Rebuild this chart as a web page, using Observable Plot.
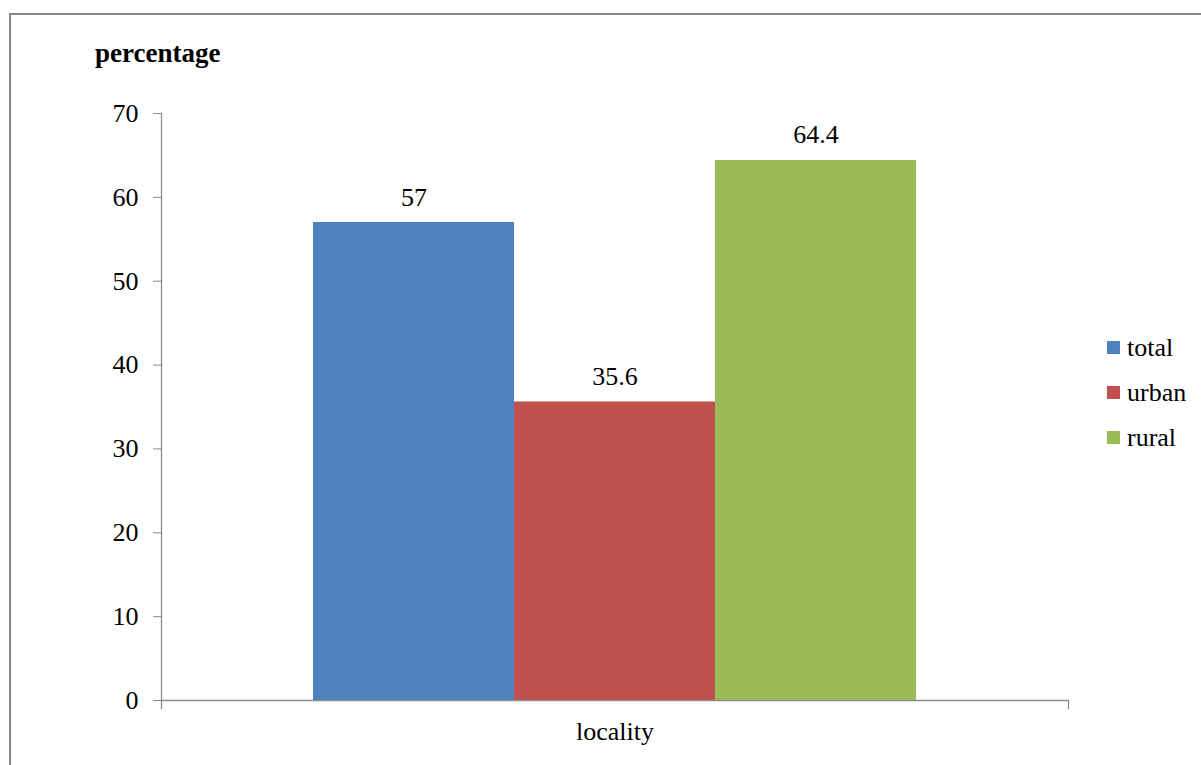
<!DOCTYPE html>
<html>
<head>
<meta charset="utf-8">
<script src="https://cdn.jsdelivr.net/npm/d3@7"></script>
<script src="https://cdn.jsdelivr.net/npm/@observablehq/plot@0.6"></script>
<style>
  html, body { margin: 0; padding: 0; background: #fff; overflow: hidden; }
  body { position: relative; width: 1201px; height: 765px; font-family: "Liberation Serif", "Times New Roman", serif; }
  #frame { position: absolute; left: 9px; top: 13px; width: 1400px; height: 1000px; border-left: 2px solid #878787; border-top: 2px solid #878787; }
  #chart { position: absolute; left: 0; top: 0; }
  #chart svg, #chart svg text { font-family: "Liberation Serif", "Times New Roman", serif !important; }
  #ytitle { position: absolute; left: 95px; top: 40px; font-weight: bold; font-size: 27px; line-height: 26px; color: #000; }
  #legend { position: absolute; left: 1107px; top: 325px; font-size: 26px; color: #000; }
  #legend .row { display: flex; align-items: center; height: 45px; line-height: 45px; }
  #legend .sw { width: 13px; height: 13px; margin-right: 7px; }
</style>
</head>
<body>
<div id="frame"></div>
<div id="chart"></div>
<div id="ytitle">percentage</div>
<div id="legend"></div>
<script>
// Share of respondents by locality
const categories = ["locality"];
const series = ["total", "urban", "rural"];
const values = [57, 35.6, 64.4];
const colors = ["#4F81BD", "#C0504D", "#9BBB59"];
const yTicks = [0, 10, 20, 30, 40, 50, 60, 70];

const rows = series.map((s, i) => ({group: categories[0], series: s, value: values[i]}));

const axisGray = "#8c8c8c";
const serif = "'Liberation Serif', 'Times New Roman', serif";
const W = 1201, H = 765;
const mTop = 113, mBottom = 65;

const chart = Plot.plot({
  width: W,
  height: H,
  marginLeft: 161,
  marginRight: 133,
  marginTop: mTop,
  marginBottom: mBottom,
  style: {fontFamily: serif, fontSize: "26px", color: "#000", background: "transparent"},
  fx: {domain: categories, padding: 0, label: null},
  x: {domain: series, paddingInner: 0, paddingOuter: 0.75, axis: null},
  y: {domain: [0, 70], label: null},
  color: {domain: series, range: colors},
  marks: [
    Plot.barY(rows, {fx: "group", x: "series", y: "value", fill: "series"}),
    Plot.text(rows, {fx: "group", x: "series", y: "value", text: d => String(d.value),
      lineAnchor: "bottom", dy: -17, fontSize: 26, fontFamily: serif, fill: "#000"}),
    // axis lines and the category boundary ticks under the baseline
    Plot.ruleY([0], {stroke: axisGray, strokeWidth: 1.3}),
    Plot.frame({anchor: "left", stroke: axisGray, strokeWidth: 1.3, insetBottom: -8}),
    Plot.frame({anchor: "right", stroke: axisGray, strokeWidth: 1.3, insetTop: H - mTop - mBottom, insetBottom: -8}),
    Plot.axisY({ticks: yTicks, tickSize: 8, tickPadding: 15, stroke: axisGray, fill: "#000", fontSize: 26, fontFamily: serif, label: null}),
    Plot.axisFx({anchor: "bottom", tickSize: 0, tickPadding: 21, fontSize: 26, fontFamily: serif, fill: "#000", label: null})
  ]
});
document.getElementById("chart").appendChild(chart);

const legend = document.getElementById("legend");
series.forEach((s, i) => {
  const row = document.createElement("div");
  row.className = "row";
  const sw = document.createElement("span");
  sw.className = "sw";
  sw.style.background = colors[i];
  const label = document.createElement("span");
  label.textContent = s;
  row.appendChild(sw);
  row.appendChild(label);
  legend.appendChild(row);
});
</script>
</body>
</html>
